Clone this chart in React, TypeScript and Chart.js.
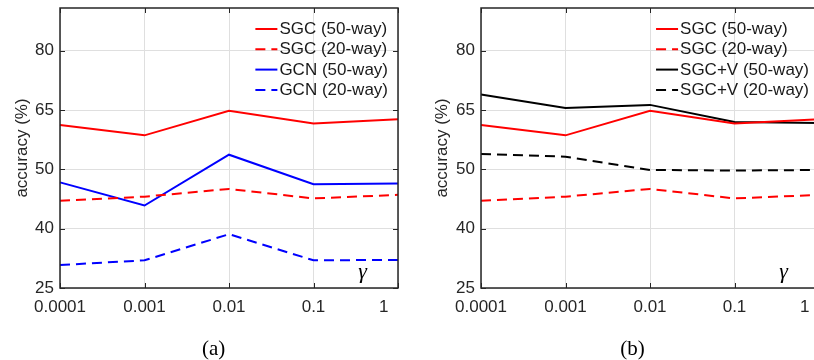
import React, { useEffect, useRef } from 'react';
import { Chart, registerables } from 'chart.js';

Chart.register(...registerables);

// ---------- data ----------
const X_LABELS = ['0.0001', '0.001', '0.01', '0.1', '1'];
const Y_TICKS = [25, 40, 50, 65, 80];
const Y_TOP = 90.8;

const SGC_50 = [61.2, 58.6, 64.8, 61.6, 62.7];
const SGC_20 = [44.7, 45.4, 46.7, 45.1, 45.7];
const GCN_50 = [47.8, 43.9, 53.7, 47.5, 47.6];
const GCN_20 = [30.8, 32.0, 38.6, 32.0, 32.1];
const SGCV_50 = [68.9, 65.5, 66.3, 62.0, 61.7];
const SGCV_20 = [53.9, 53.2, 49.9, 49.8, 49.9];

const CAPTIONS = ['(a)', '(b)'];
const Y_TITLE = 'accuracy (%)';
const X_SYMBOL = 'γ';

// map accuracy value onto the evenly spaced tick positions of the axis
function toPos(v: number): number {
  const t = Y_TICKS;
  for (let i = 0; i < t.length - 1; i++) {
    if (v <= t[i + 1]) return i + (v - t[i]) / (t[i + 1] - t[i]);
  }
  const n = t.length - 1;
  return n + (v - t[n]) / (t[n] - t[n - 1]);
}

const SANS = '"Liberation Sans", Arial, Helvetica, sans-serif';
const SERIF = '"Liberation Serif", "Times New Roman", serif';
const AXIS_COLOR = '#262626';
const GRID_COLOR = '#dfdfdf';
const DASH = [10, 6];

type DS = { label: string; values: number[]; color: string; dashed: boolean };

const PANEL_A: DS[] = [
  { label: 'SGC (50-way)', values: SGC_50, color: '#ff0000', dashed: false },
  { label: 'SGC (20-way)', values: SGC_20, color: '#ff0000', dashed: true },
  { label: 'GCN (50-way)', values: GCN_50, color: '#0000ff', dashed: false },
  { label: 'GCN (20-way)', values: GCN_20, color: '#0000ff', dashed: true },
];
const PANEL_B: DS[] = [
  { label: 'SGC (50-way)', values: SGC_50, color: '#ff0000', dashed: false },
  { label: 'SGC (20-way)', values: SGC_20, color: '#ff0000', dashed: true },
  { label: 'SGC+V (50-way)', values: SGCV_50, color: '#000000', dashed: false },
  { label: 'SGC+V (20-way)', values: SGCV_20, color: '#000000', dashed: true },
];

const decorPlugin = {
  id: 'matlabDecor',
  afterDatasetsDraw(chart: any, _args: any, opts: any) {
    const { ctx, chartArea } = chart;
    const { left, right, top, bottom } = chartArea;
    const xs = chart.scales.x;
    const ys = chart.scales.y;
    ctx.save();
    // box
    ctx.strokeStyle = AXIS_COLOR;
    ctx.lineWidth = 1.5;
    ctx.setLineDash([]);
    ctx.strokeRect(left, top, right - left, bottom - top);
    // inward ticks
    ctx.lineWidth = 1;
    const tl = 5;
    ctx.beginPath();
    for (let i = 0; i < Y_TICKS.length; i++) {
      const y = Math.round(ys.getPixelForValue(i)) + 0.5;
      ctx.moveTo(left, y); ctx.lineTo(left + tl, y);
      ctx.moveTo(right, y); ctx.lineTo(right - tl, y);
    }
    for (let i = 0; i < X_LABELS.length; i++) {
      const x = Math.round(xs.getPixelForValue(i)) + 0.5;
      ctx.moveTo(x, bottom); ctx.lineTo(x, bottom - tl);
      ctx.moveTo(x, top); ctx.lineTo(x, top + tl);
    }
    ctx.stroke();

    // legend inside top-right
    ctx.font = '17px ' + SANS;
    ctx.textBaseline = 'middle';
    ctx.textAlign = 'left';
    const dss = chart.data.datasets;
    const maxW = Math.max(...dss.map((d: any) => ctx.measureText(d.label).width));
    const tx = right - 10 - maxW;
    dss.forEach((d: any, i: number) => {
      const y = top + 21 + i * 20.3;
      ctx.strokeStyle = d.borderColor;
      ctx.lineWidth = 2;
      ctx.setLineDash(d.borderDash || []);
      ctx.beginPath();
      ctx.moveTo(tx - 24, y);
      ctx.lineTo(tx - 2, y);
      ctx.stroke();
      ctx.setLineDash([]);
      ctx.fillStyle = '#1a1a1a';
      ctx.fillText(d.label, tx, y + 0.5);
    });

    // gamma symbol
    ctx.font = 'italic 22px ' + SERIF;
    ctx.fillStyle = '#000';
    ctx.textAlign = 'center';
    ctx.textBaseline = 'alphabetic';
    ctx.fillText(X_SYMBOL, right - 35.5, bottom - 10);

    // caption
    ctx.font = '21px ' + SERIF;
    ctx.fillStyle = '#000';
    ctx.textAlign = 'center';
    ctx.fillText(opts.caption, opts.captionX, 354.5);
    ctx.restore();
  },
};

type PanelProps = {
  left: number;
  width: number;
  padLeft: number;
  padRight: number;
  yWidth: number;
  sets: DS[];
  caption: string;
  captionX: number;
};

function Panel(p: PanelProps) {
  const ref = useRef<HTMLCanvasElement>(null);
  useEffect(() => {
    if (!ref.current) return;
    const chart = new Chart(ref.current, {
      type: 'line',
      data: {
        labels: X_LABELS,
        datasets: p.sets.map((s) => ({
          label: s.label,
          data: s.values.map(toPos),
          borderColor: s.color,
          backgroundColor: s.color,
          borderWidth: 2,
          borderDash: s.dashed ? DASH : [],
          pointRadius: 0,
          pointHoverRadius: 0,
          tension: 0,
          fill: false,
        })),
      },
      options: {
        responsive: false,
        animation: false,
        devicePixelRatio: 1,
        layout: { padding: { top: 8, left: p.padLeft, right: p.padRight, bottom: 0 } },
        plugins: {
          legend: { display: false },
          tooltip: { enabled: false },
          title: { display: false },
          matlabDecor: { caption: p.caption, captionX: p.captionX },
        } as any,
        scales: {
          x: {
            type: 'category',
            offset: false,
            grid: { color: GRID_COLOR, lineWidth: 1, drawTicks: false },
            border: { display: false },
            ticks: {
              color: AXIS_COLOR,
              font: { family: SANS, size: 17 },
              padding: 9,
              autoSkip: false,
              maxRotation: 0,
              minRotation: 0,
              callback: (_v: any, i: number) =>
                i === X_LABELS.length - 1 ? X_LABELS[i] + '      ' : X_LABELS[i],
            },
            afterFit: (s: any) => {
              s.height = 72;
              s.paddingLeft = 0;
              s.paddingRight = 0;
            },
          },
          y: {
            type: 'linear',
            min: 0,
            max: toPos(Y_TOP),
            grid: { color: GRID_COLOR, lineWidth: 1, drawTicks: false },
            border: { display: false },
            afterBuildTicks: (s: any) => {
              s.ticks = Y_TICKS.map((_t, i) => ({ value: i }));
            },
            ticks: {
              color: AXIS_COLOR,
              font: { family: SANS, size: 17 },
              padding: 6,
              callback: (v: any) => {
                const t = Y_TICKS[Math.round(v)];
                return Number.isInteger(v) && t !== undefined ? String(t) : '';
              },
            },
            title: {
              display: true,
              text: Y_TITLE,
              color: AXIS_COLOR,
              font: { family: SANS, size: 17 },
              padding: { top: 12, bottom: 0 },
            },
            afterFit: (s: any) => {
              s.width = p.yWidth;
              s.paddingTop = 0;
              s.paddingBottom = 0;
            },
          },
        },
      },
      plugins: [decorPlugin],
    } as any);
    return () => chart.destroy();
  }, []);
  return (
    <div style={{ position: 'absolute', left: p.left, top: 0, width: p.width, height: 360 }}>
      <canvas ref={ref} width={p.width} height={360} style={{ display: 'block' }} />
    </div>
  );
}

export default function App() {
  return (
    <div
      style={{
        position: 'fixed',
        left: 0,
        top: 0,
        width: 814,
        height: 360,
        overflow: 'hidden',
        background: '#fff',
      }}
    >
      <Panel left={0} width={405} padLeft={0} padRight={7} yWidth={60} sets={PANEL_A} caption={CAPTIONS[0]} captionX={213.7} />
      <Panel left={405} width={425} padLeft={15} padRight={11} yWidth={61} sets={PANEL_B} caption={CAPTIONS[1]} captionX={227.5} />
    </div>
  );
}
